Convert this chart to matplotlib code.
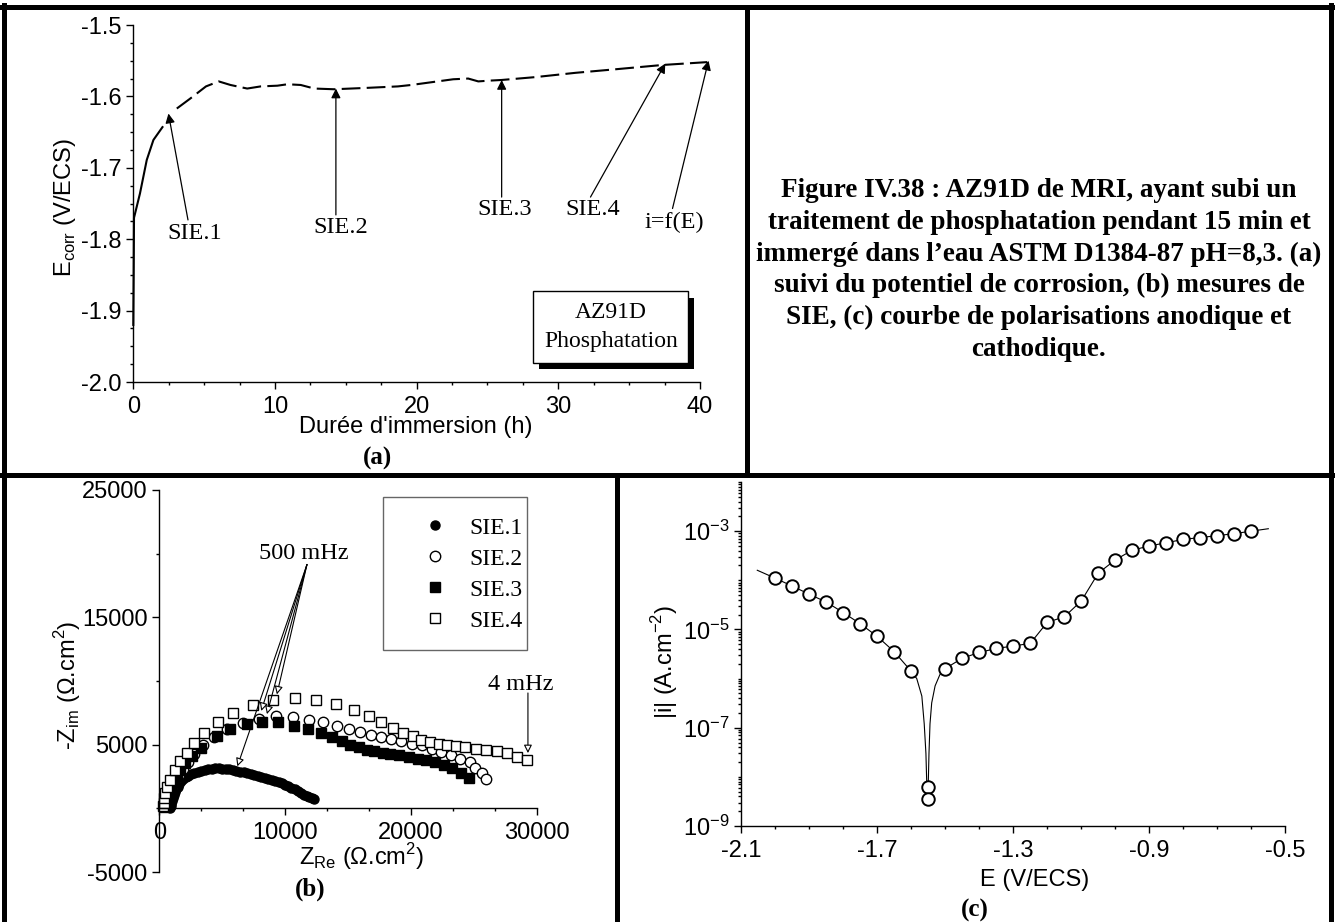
import numpy as np
import matplotlib.pyplot as plt
from matplotlib.lines import Line2D
from matplotlib.patches import Rectangle
from matplotlib import patheffects
from matplotlib.ticker import (FixedLocator, MultipleLocator, LogLocator,
                               NullFormatter, FormatStrFormatter,
                               LogFormatterSciNotation)

W, H = 1335, 922

# (a) free corrosion potential vs immersion time
time_h = [0.0, 0.03, 0.05, 0.47, 0.95, 1.42, 2.06, 3.07, 4.02, 5.13, 6.03, 6.86,
          8.04, 8.99, 10.17, 10.88, 11.82, 12.77, 14.18, 16.55, 18.68, 19.62,
          22.58, 23.64, 24.35, 25.06, 26.0, 28.37, 31.2, 34.04, 37.35, 40.5]
e_corr = [-1.92, -1.84, -1.77, -1.736, -1.689, -1.661, -1.643, -1.617, -1.603,
          -1.586, -1.579, -1.584, -1.589, -1.586, -1.585, -1.583, -1.584, -1.589,
          -1.590, -1.588, -1.586, -1.584, -1.576, -1.575, -1.579, -1.578, -1.577,
          -1.573, -1.567, -1.562, -1.556, -1.552]

# (b) Nyquist diagrams
sie1_re = [850, 890, 940, 1000, 1070, 1150, 1240, 1340, 1450, 1580, 1730, 1900,
           2090, 2300, 2530, 2780, 3050, 3330, 3610, 3890, 4170, 4450, 4730, 5010,
           5290, 5570, 5850, 6130, 6410, 6690, 6970, 7250, 7530, 7810, 8090, 8370,
           8650, 8930, 9210, 9480, 9740, 10000, 10250, 10500, 10750, 11000, 11240,
           11480, 11710, 11920, 12110, 12280]
sie1_im = [50, 190, 370, 570, 800, 1020, 1260, 1480, 1700, 1920, 2120, 2300,
           2450, 2570, 2680, 2790, 2880, 2960, 3030, 3080, 3120, 3135, 3135, 3125,
           3105, 3065, 3015, 2955, 2885, 2815, 2745, 2670, 2600, 2530, 2460, 2390,
           2320, 2250, 2170, 2080, 1980, 1870, 1750, 1620, 1480, 1340, 1200,
           1070, 950, 860, 790, 740]
sie2_re = [450, 520, 590, 660, 720, 800, 910, 1050, 1200, 1390, 1600, 1860, 2260,
           2790, 3500, 4380, 5390, 6640, 7910, 9280, 10610, 11910, 13020, 14080,
           15070, 15970, 16820, 17610, 18430, 19200, 20080, 20880, 21670, 22410,
           23150, 23870, 24660, 25060, 25650, 25970]
sie2_im = [150, 370, 600, 850, 1020, 1250, 1500, 1800, 2100, 2400, 2650, 3080, 3660,
           4290, 4940, 5600, 6200, 6700, 7040, 7220, 7170, 6960, 6780, 6490, 6230,
           5960, 5780, 5570, 5440, 5250, 5090, 4940, 4680, 4440, 4210, 3870, 3600,
           3130, 2740, 2300]
sie3_re = [480, 540, 610, 700, 810, 950, 1130, 1370, 1680, 2080, 2600, 3300, 4570,
           5620, 6950, 8190, 9420, 10720, 11830, 12840, 13720, 14510, 15170, 15830,
           16500, 17080, 17740, 18350, 19070, 19810, 20530, 21220, 21910, 22590,
           23260, 23980, 24610]
sie3_im = [100, 380, 680, 1000, 1330, 1680, 2080, 2530, 3020, 3550, 4120, 4750, 5650,
           6230, 6620, 6750, 6750, 6490, 6230, 5910, 5570, 5250, 4990, 4780, 4600,
           4470, 4340, 4290, 4150, 4070, 3890, 3790, 3600, 3420, 3160, 2790, 2420]
sie4_re = [300, 350, 400, 450, 600, 850, 1250, 1650, 2180, 2790, 3580, 4650, 5890,
           7430, 9070, 10800, 12470, 14060, 15430, 16660, 17640, 18570, 19360,
           20130, 20800, 21540, 22200, 22860, 23600, 24320, 25120, 25940, 26790,
           27580, 28380, 29230]
sie4_im = [150, 450, 800, 1200, 1650, 2240, 3030, 3680, 4340, 5130, 5910, 6750, 7510,
           8140, 8530, 8660, 8530, 8220, 7740, 7250, 6780, 6310, 5910, 5650, 5390,
           5200, 5050, 4940, 4860, 4780, 4680, 4580, 4470, 4340, 4070, 3810]

# (c) polarisation curve: measured points and the continuous trace
pol_e = [-2.00, -1.95, -1.90, -1.85, -1.80, -1.75, -1.70, -1.65, -1.60, -1.55,
         -1.55, -1.50, -1.45, -1.40, -1.35, -1.30, -1.25, -1.20, -1.15, -1.10,
         -1.05, -1.00, -0.95, -0.90, -0.85, -0.80, -0.75, -0.70, -0.65, -0.60]
pol_i = [1.1e-4, 7.6e-5, 5.2e-5, 3.6e-5, 2.2e-5, 1.3e-5, 7.2e-6, 3.5e-6, 1.4e-6,
         6.3e-9, 3.5e-9, 1.6e-6, 2.6e-6, 3.4e-6, 4.1e-6, 4.6e-6, 5.2e-6, 1.4e-5,
         1.8e-5, 3.8e-5, 1.4e-4, 2.6e-4, 4.1e-4, 5.0e-4, 5.8e-4, 6.8e-4, 7.4e-4,
         8.1e-4, 8.9e-4, 1.0e-3]
trace_e = [-2.053, -2.00, -1.95, -1.90, -1.85, -1.80, -1.75, -1.70, -1.65, -1.60,
           -1.584, -1.569, -1.562, -1.557, -1.554, -1.551, -1.548, -1.545, -1.540,
           -1.530, -1.516, -1.50, -1.45, -1.40, -1.35, -1.30, -1.25, -1.20, -1.15,
           -1.10, -1.05, -1.00, -0.95, -0.90, -0.85, -0.80, -0.75, -0.70, -0.65,
           -0.60, -0.55]
trace_i = [1.6e-4, 1.1e-4, 7.6e-5, 5.2e-5, 3.6e-5, 2.2e-5, 1.3e-5, 7.2e-6, 3.5e-6,
           1.4e-6, 1.0e-6, 4.4e-7, 1.2e-7, 3.0e-8, 5.4e-9, 4.0e-9, 3.0e-8, 1.2e-7,
           3.2e-7, 7.1e-7, 1.2e-6, 1.6e-6, 2.6e-6, 3.4e-6, 4.1e-6, 4.6e-6, 5.2e-6,
           1.4e-5, 1.8e-5, 3.8e-5, 1.4e-4, 2.6e-4, 4.1e-4, 5.0e-4, 5.8e-4, 6.8e-4,
           7.4e-4, 8.1e-4, 8.9e-4, 1.0e-3, 1.12e-3]

caption = ("Figure IV.38 : AZ91D de MRI, ayant subi un\n"
           "traitement de phosphatation pendant 15 min et\n"
           "immergé dans l\u2019eau ASTM D1384-87 pH=8,3. (a)\n"
           "suivi du potentiel de corrosion, (b) mesures de\n"
           "SIE, (c) courbe de polarisations anodique et\n"
           "cathodique.")

SERIF = ['Liberation Serif', 'DejaVu Serif']
plt.rcParams['font.family'] = ['Liberation Sans', 'DejaVu Sans']
plt.rcParams['axes.unicode_minus'] = False
plt.rcParams['font.size'] = 17

fig = plt.figure(figsize=(W / 100, H / 100), dpi=100)


def axes_px(x0, x1, y_top, y_bot):
    return fig.add_axes([x0 / W, 1 - y_bot / H, (x1 - x0) / W, (y_bot - y_top) / H])


def text_px(x, y, s, **kw):
    fig.text(x / W, 1 - y / H, s, ha='center', va='center', **kw)


def style(ax):
    ax.spines['top'].set_visible(False)
    ax.spines['right'].set_visible(False)
    for sp in ('left', 'bottom'):
        ax.spines[sp].set_linewidth(1.0)
    ax.tick_params(which='major', direction='out', length=5, width=1,
                   labelsize=17)
    ax.tick_params(which='minor', direction='out', length=2.5, width=1)
    ax.tick_params(axis='x', which='major', pad=5)
    ax.tick_params(axis='y', which='major', pad=3.5)


# frame lines of the page
for xs, ys in [((4, 4), (5, 922)), ((2, 1333), (7, 7)), ((1331, 1331), (5, 922)),
               ((2, 1333), (475, 475)), ((747, 747), (7, 475)),
               ((617, 617), (475, 922))]:
    fig.add_artist(Line2D([x / W for x in xs], [1 - y / H for y in ys],
                          color='k', lw=3.6, solid_capstyle='projecting'))

# ---------------- (a)
ax_a = axes_px(133.3, 700, 25, 382)
style(ax_a)
ax_a.plot(time_h[:7], e_corr[:7], color='k', lw=1.5, clip_on=False)
ax_a.plot(time_h[7:], e_corr[7:], color='k', lw=1.5, dashes=(9, 3), clip_on=False)
ax_a.set_xlim(0, 40)
ax_a.set_ylim(-2.0, -1.5)
ax_a.xaxis.set_major_locator(MultipleLocator(10))
ax_a.xaxis.set_minor_locator(MultipleLocator(2.5))
ax_a.yaxis.set_major_locator(MultipleLocator(0.1))
ax_a.yaxis.set_minor_locator(MultipleLocator(0.025))
ax_a.yaxis.set_major_formatter(FormatStrFormatter('%.1f'))

arrow_a = dict(arrowstyle='-|>', color='k', lw=0.9, mutation_scale=14,
               shrinkA=0, shrinkB=0)
for label, txy, tail, tip in [
        ('SIE.1', (4.35, -1.792), (3.86, -1.773), (2.48, -1.624)),
        ('SIE.2', (14.66, -1.784), (14.3, -1.766), (14.3, -1.589)),
        ('SIE.3', (26.2, -1.759), (26.0, -1.741), (26.0, -1.577)),
        ('SIE.4', (32.46, -1.759), (32.27, -1.741), (37.55, -1.554)),
        ('i=f(E)', (38.2, -1.776), (38.06, -1.757), (40.6, -1.550))]:
    ax_a.text(*txy, label, ha='center', va='center', family=SERIF, size=17.5)
    ax_a.annotate('', xy=tip, xytext=tail, arrowprops=arrow_a,
                  annotation_clip=False)

box = ax_a.text(33.7, -1.923, 'AZ91D\nPhosphatation', ha='center', va='center',
                family=SERIF, size=17, linespacing=1.5,
                bbox=dict(boxstyle='square,pad=0.45', fc='white', ec='k', lw=1))
box.get_bbox_patch().set_path_effects([
    patheffects.SimplePatchShadow(offset=(4.5, -4.5), shadow_rgbFace='k', alpha=1),
    patheffects.Normal()])

text_px(65, 207, r'E$_{\mathdefault{corr}}$ (V/ECS)', rotation=90, size=17)
text_px(416, 427, "Durée d'immersion (h)", size=17)
text_px(378, 458, '(a)', family=SERIF, weight='bold', size=18)

# ---------------- (b)
ax_b = axes_px(159.3, 537, 490, 872)
style(ax_b)
ax_b.spines['bottom'].set_position(('data', 0))
ax_b.plot(sie1_re, sie1_im, 'o', ms=6.5, mfc='k', mec='k', ls='none',
          label='SIE.1', clip_on=False)
ax_b.plot(sie2_re, sie2_im, 'o', ms=7.5, mfc='white', mec='k', mew=1, ls='none',
          label='SIE.2', clip_on=False)
ax_b.plot(sie3_re, sie3_im, 's', ms=7, mfc='k', mec='k', ls='none',
          label='SIE.3', clip_on=False)
ax_b.plot(sie4_re, sie4_im, 's', ms=7, mfc='white', mec='k', mew=1, ls='none',
          label='SIE.4', clip_on=False)
ax_b.set_xlim(0, 30000)
ax_b.set_ylim(-5000, 25000)
ax_b.xaxis.set_major_locator(MultipleLocator(10000))
ax_b.xaxis.set_minor_locator(MultipleLocator(10000 / 3))
ax_b.yaxis.set_major_locator(FixedLocator([-5000, 5000, 15000, 25000]))
ax_b.yaxis.set_minor_locator(FixedLocator([0, 10000, 20000]))
ax_b.xaxis.set_major_formatter(FormatStrFormatter('%d'))
ax_b.yaxis.set_major_formatter(FormatStrFormatter('%d'))

# legend entries without frame, and an Origin-like frame drawn around them
ax_b.legend(loc='upper left', bbox_to_anchor=(383 / W, 1 - 497 / H),
            bbox_transform=fig.transFigure, prop=dict(family=SERIF, size=17),
            frameon=False, borderpad=0.85, labelspacing=0.4, handlelength=2.7,
            handletextpad=0.12, borderaxespad=0, numpoints=1)
fig.add_artist(Rectangle((383 / W, 1 - 650 / H), 144 / W, 153 / H,
                         transform=fig.transFigure, fill=False, ec='0.4', lw=1))

arrow_b = dict(arrowstyle='-|>', fc='white', ec='k', lw=0.8, mutation_scale=12,
               shrinkA=0, shrinkB=0)
ax_b.text(11510, 20000, '500 mHz', ha='center', va='center', family=SERIF,
          size=17.5)
for tip in [(6200, 3300), (8100, 7650), (8550, 7400), (9340, 8950)]:
    ax_b.annotate('', xy=tip, xytext=(11730, 19150), arrowprops=arrow_b)
ax_b.text(28730, 9710, '4 mHz', ha='center', va='center', family=SERIF, size=17.5)
ax_b.annotate('', xy=(29280, 4340), xytext=(29280, 9060), arrowprops=arrow_b,
              annotation_clip=False)

text_px(68, 685, r'-Z$_{\mathdefault{im}}$ (Ω.cm$^{\mathdefault{2}}$)',
        rotation=90, size=17)
text_px(362, 857, r'Z$_{\mathdefault{Re}}$ (Ω.cm$^{\mathdefault{2}}$)', size=17)
text_px(310, 889, '(b)', family=SERIF, weight='bold', size=18)

# ---------------- (c)
ax_c = axes_px(741.3, 1285.3, 482, 826)
style(ax_c)
ax_c.set_yscale('log')
ax_c.plot(trace_e, trace_i, color='k', lw=0.8)
ax_c.plot(pol_e, pol_i, 'o', ms=9, mfc='white', mec='k', mew=1.4, ls='none')
ax_c.set_xlim(-2.1, -0.5)
ax_c.set_ylim(1e-9, 1e-2)
ax_c.xaxis.set_major_locator(FixedLocator([-2.1, -1.7, -1.3, -0.9, -0.5]))
ax_c.xaxis.set_minor_locator(MultipleLocator(0.1))
ax_c.xaxis.set_major_formatter(FormatStrFormatter('%.1f'))
ax_c.yaxis.set_major_locator(FixedLocator([1e-9, 1e-7, 1e-5, 1e-3]))
ax_c.yaxis.set_major_formatter(LogFormatterSciNotation())
ax_c.yaxis.set_minor_locator(LogLocator(base=10, subs=np.arange(1, 10) * 1.0,
                                        numticks=100))
ax_c.yaxis.set_minor_formatter(NullFormatter())

text_px(665, 662, r'|i| (A.cm$^{\mathdefault{-2}}$)', rotation=90, size=17)
text_px(1035, 880, 'E (V/ECS)', size=17)
text_px(975, 910, '(c)', family=SERIF, weight='bold', size=18)

# caption
text_px(1039, 270, caption, family=SERIF, weight='bold', size=19.5,
        linespacing=1.35, multialignment='center')

fig.savefig('out.png', dpi=100)
